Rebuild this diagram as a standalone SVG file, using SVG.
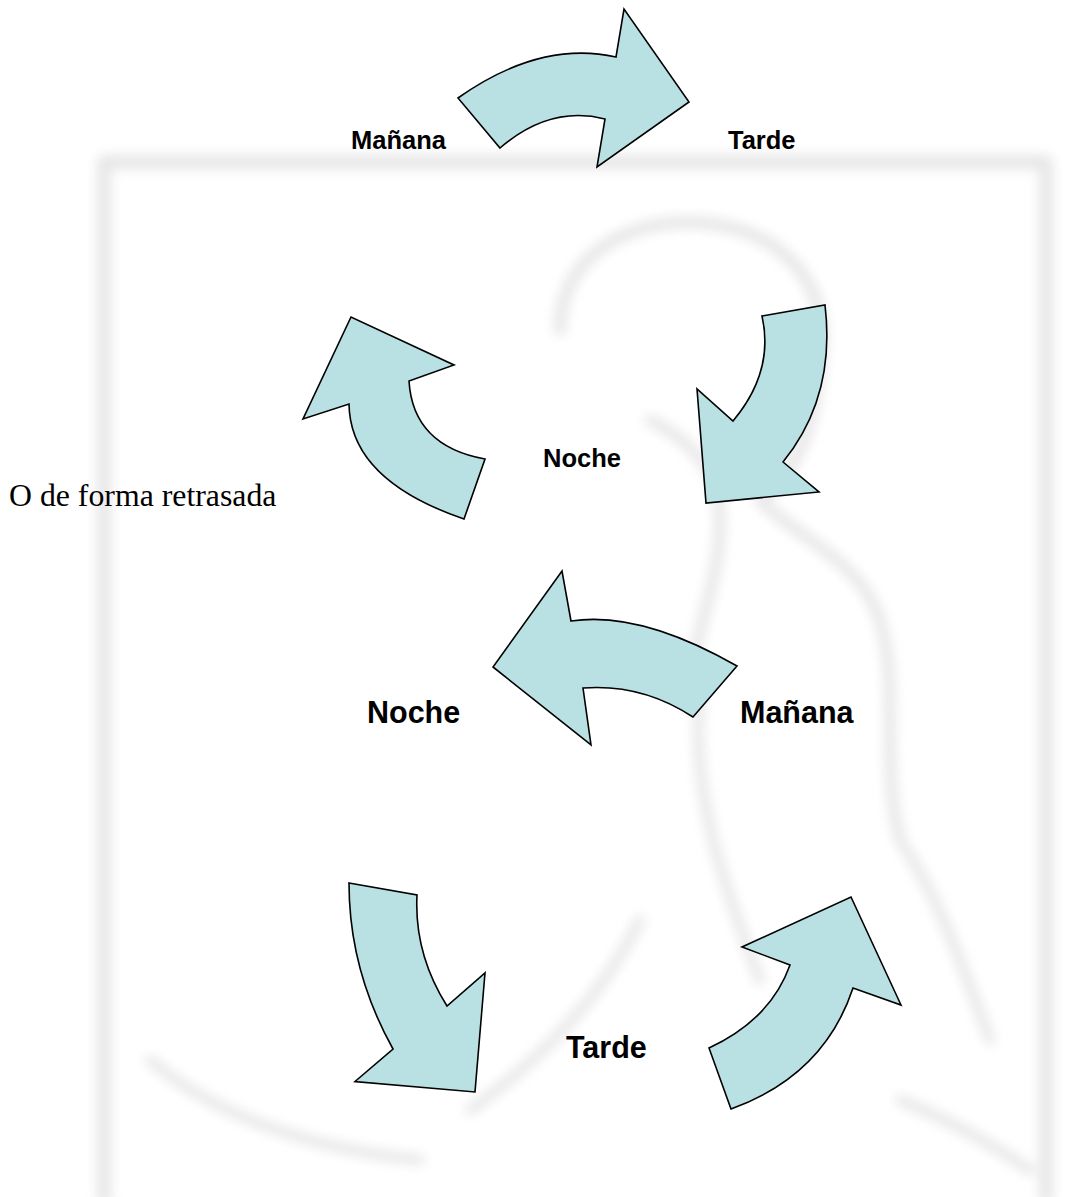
<svg xmlns="http://www.w3.org/2000/svg" width="1067" height="1197" viewBox="0 0 1067 1197">
  <defs>
    <filter id="soft" x="-10%" y="-10%" width="120%" height="120%">
      <feGaussianBlur stdDeviation="6"/>
    </filter>
  </defs>
  <style>
    .arrow { fill: #b9e0e3; stroke: #000; stroke-width: 1.6; stroke-linejoin: miter; }
    .lbl { font-family: "Liberation Sans", Arial, sans-serif; font-weight: bold; fill: #000; }
    .sm { font-size: 25.5px; }
    .lg { font-size: 30.5px; }
    .note { font-family: "Liberation Serif", "Times New Roman", serif; font-size: 31.8px; fill: #000; }
    .wm { fill: none; stroke: #e2e2e2; stroke-linecap: round; stroke-linejoin: round; }
  </style>

  <rect width="1067" height="1197" fill="#ffffff"/>

  <!-- faint, blurred background picture -->
  <g id="background" filter="url(#soft)" opacity="0.85">
    <path class="wm" stroke-width="14" d="M104,1197 V162 H1046 V1197"/>
    <path class="wm" stroke-width="12" d="M560,330 C560,240 660,205 740,230 C800,250 830,300 820,360 C815,420 800,470 760,500"/>
    <path class="wm" stroke-width="11" d="M650,420 C690,440 720,470 720,520 C720,600 680,650 700,700"/>
    <path class="wm" stroke-width="11" d="M760,500 C800,540 860,560 880,620 C900,690 880,760 900,840"/>
    <path class="wm" stroke-width="10" d="M700,700 C690,800 730,900 760,980"/>
    <path class="wm" stroke-width="10" d="M900,840 C940,900 960,960 990,1040"/>
    <path class="wm" stroke-width="10" d="M640,920 C600,1000 540,1060 470,1110"/>
    <path class="wm" stroke-width="10" d="M150,1060 C220,1120 320,1150 420,1160"/>
    <path class="wm" stroke-width="10" d="M900,1100 C950,1120 1000,1150 1030,1170"/>
  </g>

  <!-- curved arrows -->
  <g id="connectors">
    <path id="arrow-top" class="arrow" d="M458,98 Q540,40 616,57 L624,9 L689,102 L597,167 L605,119 Q550,105 500,148 Z"/>
    <path id="arrow-left" class="arrow" d="M464,519 Q350,480 349,404 L303,419 L351,317 L454,365 L409,381 Q413,446 485,459 Z"/>
    <path id="arrow-right" class="arrow" d="M762,316 L825,305 Q836,396.5 783,462 L819,492 L706,503 L697,389 L733,421 Q774.5,371.5 762,316 Z"/>
    <path id="arrow-middle" class="arrow" d="M737,666 Q640,610.5 571,621 L562,571 L493,667 L591,745 L583,688 Q642,683.5 693,717 Z"/>
    <path id="arrow-bottom-left" class="arrow" d="M349,883 L417,895 Q414,953.5 447,1006 L485,973 L475,1092 L355,1081.5 L393,1049 Q349,970 349,883 Z"/>
    <path id="arrow-bottom-right" class="arrow" d="M731,1109 Q824,1075.5 853,988 L901,1005 L851,897 L742,947 L790,965 Q770.5,1019.5 709,1048 Z"/>
  </g>

  <!-- first cycle labels -->
  <g id="node-manana-1"><text class="lbl sm" x="351" y="149">Mañana</text></g>
  <g id="node-tarde-1"><text class="lbl sm" x="728" y="149">Tarde</text></g>
  <g id="node-noche-1"><text class="lbl sm" x="543" y="467">Noche</text></g>

  <g id="note"><text class="note" x="9" y="506">O de forma retrasada</text></g>

  <!-- second cycle labels -->
  <g id="node-noche-2"><text class="lbl lg" x="367" y="723">Noche</text></g>
  <g id="node-manana-2"><text class="lbl lg" x="740" y="723">Mañana</text></g>
  <g id="node-tarde-2"><text class="lbl lg" x="566" y="1058">Tarde</text></g>
</svg>
